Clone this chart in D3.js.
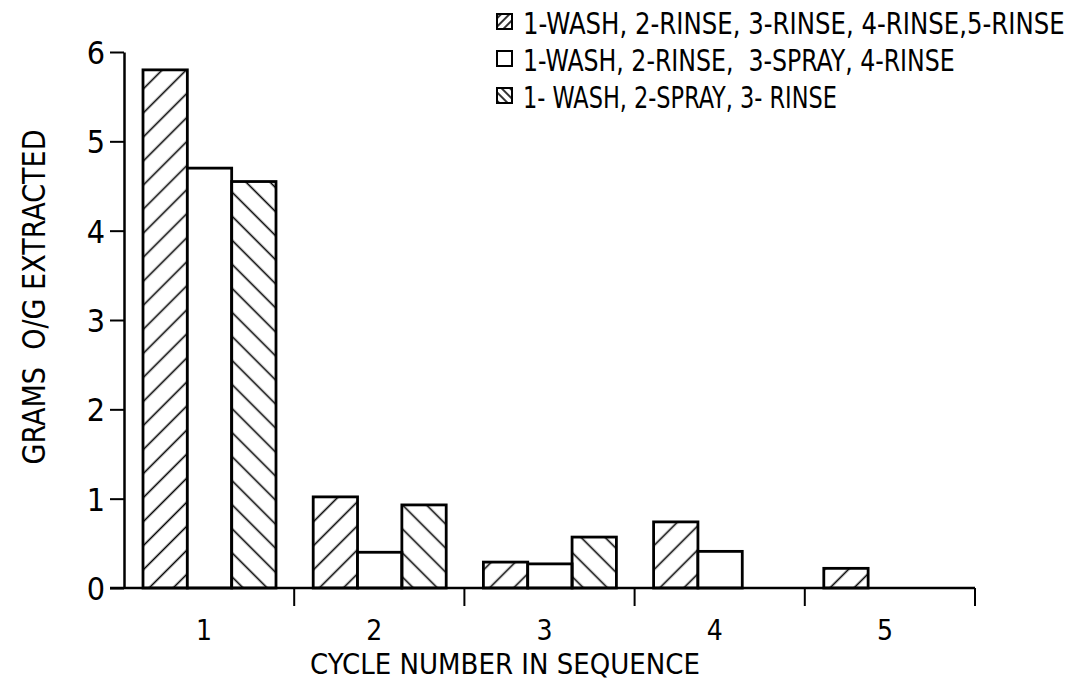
<!DOCTYPE html>
<html>
<head>
<meta charset="utf-8">
<script src="https://cdn.jsdelivr.net/npm/d3@7"></script>
<style>
  body { margin: 0; background: #fff; }
  svg text { font-family: "DejaVu Sans Condensed", "DejaVu Sans", sans-serif; fill: #000; }
</style>
</head>
<body>
<main></main>
<script>
const cycles = ["1", "2", "3", "4", "5"];
const seriesKeys = ["fiveStep", "fourStep", "threeStep"];
const seriesLabels = [
    "1-WASH, 2-RINSE, 3-RINSE, 4-RINSE,5-RINSE",
    "1-WASH, 2-RINSE,  3-SPRAY, 4-RINSE",
    "1- WASH, 2-SPRAY, 3- RINSE"
];
const fiveStep = [5.8, 1.02, 0.29, 0.74, 0.22];
const fourStep = [4.7, 0.4, 0.27, 0.41, null];
const threeStep = [4.55, 0.93, 0.57, null, null];
const yTicks = [0, 1, 2, 3, 4, 5, 6];
const yTitle = "GRAMS  O/G EXTRACTED";
const xTitle = "CYCLE NUMBER IN SEQUENCE";

const svgSize = { width: 1083, height: 681 };
const plot = { left: 124, right: 975, top: 52, bottom: 588 };

const svg = d3.select("main").append("svg")
    .attr("width", svgSize.width)
    .attr("height", svgSize.height);

// squeeze a text horizontally so it spans the given width (the original lettering is narrow)
const fitWidth = (text, x, y, width, rotate) => {
    const len = text.node().getComputedTextLength();
    const s = width / len;
    text.attr("x", 0).attr("y", 0)
        .attr("transform", `translate(${x},${y})${rotate ? " rotate(-90)" : ""} scale(${s},1)`);
};

// hatch patterns: "/" and "\"
const defs = svg.append("defs");
const makeHatch = (id, angle, gap) => {
    defs.append("pattern")
        .attr("id", id)
        .attr("patternUnits", "userSpaceOnUse")
        .attr("width", gap).attr("height", gap)
        .attr("patternTransform", `rotate(${angle})`)
        .append("line")
        .attr("x1", 0).attr("y1", gap / 2)
        .attr("x2", gap).attr("y2", gap / 2)
        .attr("stroke", "#000").attr("stroke-width", 1.6);
};
makeHatch("hatchUp", -45, 17);
makeHatch("hatchDown", 45, 17);
makeHatch("hatchUpSmall", -45, 6);
makeHatch("hatchDownSmall", 45, 6);
const fills = { fiveStep: "url(#hatchUp)", fourStep: "#fff", threeStep: "url(#hatchDown)" };
const legendFills = ["url(#hatchUpSmall)", "#fff", "url(#hatchDownSmall)"];

const xScale = d3.scaleBand().domain(cycles).range([plot.left, plot.right]);
const inner = d3.scaleBand().domain(seriesKeys).range([19, 19 + 133]);
const yScale = d3.scaleLinear().domain([0, 6]).range([plot.bottom, plot.top]);

const rows = cycles.map((c, i) => ({
    cycle: c,
    values: [
        { key: "fiveStep", v: fiveStep[i] },
        { key: "fourStep", v: fourStep[i] },
        { key: "threeStep", v: threeStep[i] }
    ].filter(d => d.v !== null)
}));

svg.append("g").selectAll("g")
    .data(rows)
    .enter().append("g")
    .attr("transform", d => `translate(${xScale(d.cycle)},0)`)
    .selectAll("rect")
    .data(d => d.values)
    .enter().append("rect")
    .attr("x", d => inner(d.key))
    .attr("y", d => yScale(d.v))
    .attr("width", inner.bandwidth())
    .attr("height", d => yScale(0) - yScale(d.v))
    .attr("fill", d => fills[d.key])
    .attr("stroke", "#000")
    .attr("stroke-width", 2.8);

// y axis
const yAxis = svg.append("g")
    .attr("transform", `translate(${plot.left},0)`)
    .call(d3.axisLeft(yScale).tickValues(yTicks).tickFormat(d3.format("d"))
        .tickSize(14).tickPadding(5).tickSizeOuter(0));
yAxis.select(".domain").attr("stroke-width", 2.5);
yAxis.selectAll(".tick line").attr("stroke-width", 2);
yAxis.selectAll(".tick text").attr("font-size", 32).attr("dy", "0.36em")
    .attr("font-family", "DejaVu Sans Condensed, DejaVu Sans, sans-serif");

// x axis: ticks at the band edges, labels at band centres
const xAxis = svg.append("g")
    .attr("transform", `translate(0,${plot.bottom})`);
xAxis.append("line")
    .attr("x1", plot.left - 14).attr("x2", plot.right)
    .attr("stroke", "#000").attr("stroke-width", 2.5);
xAxis.selectAll(".sep")
    .data(cycles)
    .enter().append("line")
    .attr("x1", d => xScale(d) + xScale.bandwidth())
    .attr("x2", d => xScale(d) + xScale.bandwidth())
    .attr("y1", 0).attr("y2", 18)
    .attr("stroke", "#000").attr("stroke-width", 2);
xAxis.selectAll(".lab")
    .data(cycles)
    .enter().append("text")
    .attr("x", d => xScale(d) + xScale.bandwidth() / 2 - 5)
    .attr("y", 52)
    .attr("text-anchor", "middle")
    .attr("font-size", 28)
    .text(d => d);

const xt = svg.append("text")
    .attr("text-anchor", "middle")
    .attr("font-size", 28)
    .text(xTitle);
fitWidth(xt, 505, 674, 390, false);

const yt = svg.append("text")
    .attr("text-anchor", "middle")
    .attr("font-size", 32)
    .style("white-space", "pre")
    .text(yTitle);
fitWidth(yt, 45, 297, 335, true);

// legend
const legendY = [14, 51, 88];
const legendEnd = [1065, 955, 837];
const legend = svg.append("g").selectAll("g")
    .data(seriesLabels)
    .enter().append("g")
    .attr("transform", (d, i) => `translate(497,${legendY[i]})`);
legend.append("rect")
    .attr("width", 15).attr("height", 15)
    .attr("fill", (d, i) => legendFills[i])
    .attr("stroke", "#000").attr("stroke-width", 2);
legend.append("text")
    .attr("font-size", 31)
    .style("white-space", "pre")
    .text(d => d)
    .each(function (d, i) { fitWidth(d3.select(this), 26, 20, legendEnd[i] - 523, false); });
</script>
</body>
</html>
